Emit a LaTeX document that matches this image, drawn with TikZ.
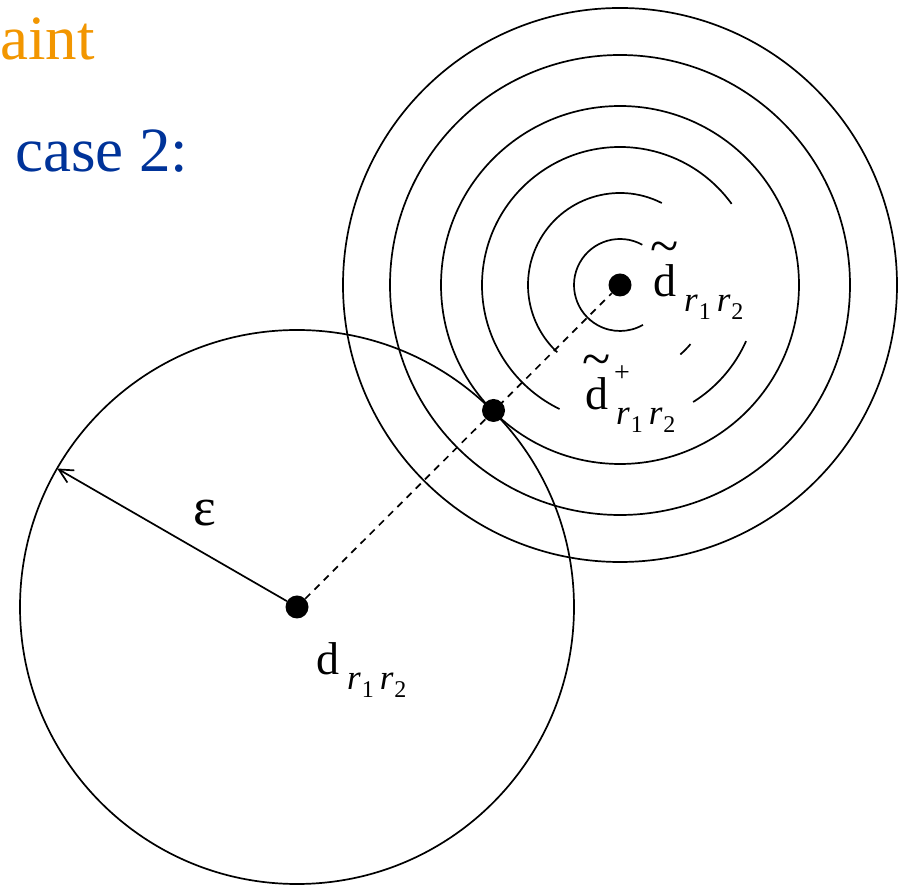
\documentclass[tikz,border=0pt]{standalone}
\usepackage{fontspec}
\setmainfont{Liberation Serif}
\usetikzlibrary{arrows.meta,positioning}
\definecolor{titleorange}{RGB}{242,150,0}
\definecolor{caseblue}{RGB}{0,51,153}
% index r1 r2 and the tilde, set as text
\newcommand{\rsub}{\raisebox{-15pt}{\fontsize{35}{35}\selectfont\itshape
  r\kern1pt\raisebox{-8pt}{\fontsize{24}{24}\selectfont\upshape 1}\kern6pt
  r\kern1pt\raisebox{-8pt}{\fontsize{24}{24}\selectfont\upshape 2}}}
\newcommand{\dtilde}{\ooalign{d\cr\hidewidth\raisebox{33pt}{\fontsize{52}{52}\selectfont\textasciitilde}\hidewidth\cr}}

\begin{document}
\begin{tikzpicture}[
x=1pt, y=1pt,
ring/.style={line width=1.7pt},
dot/.style={circle, fill, inner sep=0pt, minimum size=23pt},
arrow/.style={-{Straight Barb[length=14pt, width=14pt]}, line width=1.7pt},
dashline/.style={line width=1.7pt, dash pattern=on 7pt off 6pt},
lbl/.style={inner sep=0pt, anchor=base west, font=\fontsize{46}{50}\selectfont},
heading/.style={inner sep=0pt, anchor=base west, font=\fontsize{63}{70}\selectfont}
]
\useasboundingbox (0,0) rectangle (905,886);

\node[heading, text=titleorange] (title) at (0,826) {aint};
\node[heading, text=caseblue] (case) at (15,714) {case 2:};

\node[dot] (dr) at (297,279) {};
\node[dot] (dt) at (620,601) {};
\node[dot] (dp) at (493.5,475.5) {};
\coordinate (edge) at ([shift={(150:277)}]dr.center);

% neighbourhood of d and the level sets round d tilde
\draw[ring] (dr.center) circle[radius=277];
\foreach \r in {179,230,277}
  \draw[ring] (dt.center) circle[radius=\r];
\foreach \a/\b/\r in {61/300/46, 63/227/92, -49/-40/92, 36/244/138, -58/-24/138}
  \draw[ring] ([shift={(\a:\r)}]dt.center) arc[start angle=\a, end angle=\b, radius=\r];

\draw[dashline] (dr) -- (dt);
\draw[arrow] (dr) -- (edge);

\node[inner sep=0pt, font=\fontsize{54}{58}\selectfont] (eps) at (205,373) {ε};
\node[lbl] (dtlabel) at (653,589) {\dtilde\kern8pt\rsub};
\node[lbl] (dplabel) at (585,476) {\dtilde\rlap{\kern6pt\raisebox{28pt}{\fontsize{28}{28}\selectfont +}}\kern8pt\rsub};
\node[lbl] (drlabel) at (316,211) {d\kern8pt\rsub};
\end{tikzpicture}
\end{document}
